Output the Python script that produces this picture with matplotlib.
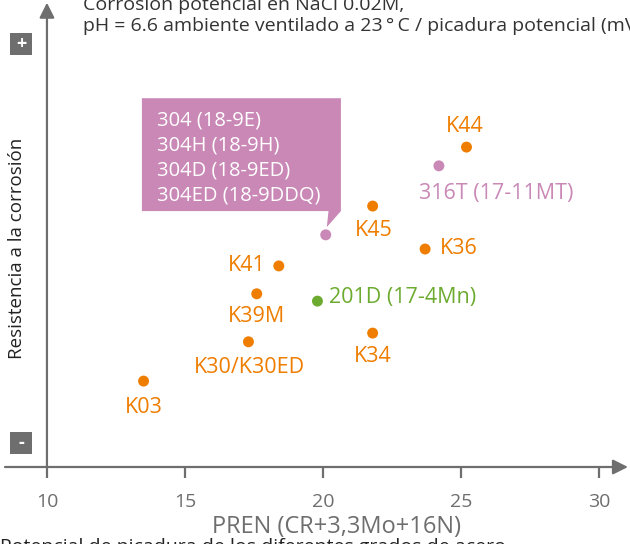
"""Corrosion resistance vs. PREN scatter with labelled stainless grades."""
import matplotlib
matplotlib.use("Agg")
import matplotlib.pyplot as plt
from matplotlib.patches import Rectangle, Polygon

plt.rcParams["font.family"] = ["Open Sans", "DejaVu Sans"]

ORANGE = "#ee7d00"
PINK = "#c988b6"
GREEN = "#6cab2f"
GRAY = "#6e6e6e"

# PREN (x) and relative corrosion resistance (y, arbitrary 0-100 scale)
labels = ["K03", "K30/K30ED", "K39M", "K41", "201D (17-4Mn)", "304",
          "K45", "K34", "K36", "316T (17-11MT)", "K44"]
pren = [13.5, 17.3, 17.6, 18.4, 19.8, 20.1, 21.8, 21.8, 23.7, 24.2, 25.2]
resist = [18.8, 27.4, 37.9, 44.0, 36.3, 50.8, 57.1, 29.3, 47.7, 65.9, 70.0]
groups = ["K", "K", "K", "K", "201", "304", "K", "K", "K", "316", "K"]
group_color = {"K": ORANGE, "201": GREEN, "304": PINK, "316": PINK}

callout_lines = ["304 (18-9E)", "304H (18-9H)", "304D (18-9ED)", "304ED (18-9DDQ)"]

# label placement: (dx px, dy px, ha)
label_pos = {
    "K03": (0, -26, "center"),
    "K30/K30ED": (1, -26, "center"),
    "K39M": (0, -23, "center"),
    "K41": (-13, 0, "right"),
    "201D (17-4Mn)": (12, 4, "left"),
    "K45": (1, -24, "center"),
    "K34": (0, -23, "center"),
    "K36": (15, 1, "left"),
    "316T (17-11MT)": (-20, -28, "left"),
    "K44": (-2, 21, "center"),
}

fig = plt.figure(figsize=(6.3, 5.44), dpi=100)
ax = fig.add_axes([5 / 630, 77 / 544, 610 / 630, 457 / 544])
ax.set_xlim(8.48, 30.58)
ax.set_ylim(0, 100)
for s in ax.spines.values():
    s.set_visible(False)

# axis arrows
arrow = dict(arrowstyle="-|>,head_length=0.9,head_width=0.45", color=GRAY,
             lw=1.6, shrinkA=0, shrinkB=0)
ax.annotate("", xy=(31.05, 0), xytext=(8.48, 0), arrowprops=arrow,
            annotation_clip=False)
ax.annotate("", xy=(10, 101.6), xytext=(10, 0), arrowprops=arrow,
            annotation_clip=False)

ax.set_xticks([10, 15, 20, 25, 30])
ax.tick_params(axis="x", direction="out", length=8, width=1.6, color=GRAY,
               labelcolor=GRAY, labelsize=14, pad=11)
ax.set_yticks([])
ax.set_xlabel("PREN (CR+3,3Mo+16N)", fontsize=17, color=GRAY)
ax.xaxis.set_label_coords((337 - 5) / 610, -0.106)
fig.text(17 / 630, 1 - 248 / 544, "Resistencia a la corrosión", rotation=90,
         ha="center", va="center", fontsize=13.5, color="#222222")

# callout for the 304 family
box = [(13.44, 80.7), (20.65, 80.7), (20.65, 56.0), (20.14, 52.5),
       (20.20, 56.0), (13.44, 56.0)]
ax.add_patch(Polygon(box, closed=True, facecolor=PINK, edgecolor="none"))
for i, line in enumerate(callout_lines):
    ax.text(13.97, 75.9 - i * 5.5, line, color="white", fontsize=14.5,
            ha="left", va="center")

colors = [group_color[g] for g in groups]
ax.scatter(pren, resist, s=62, c=colors, edgecolors="none", zorder=3)

for name, x, y, g in zip(labels, pren, resist, groups):
    if name not in label_pos:
        continue
    dx, dy, ha = label_pos[name]
    ax.annotate(name, (x, y), xytext=(dx, dy), textcoords="offset pixels",
                ha=ha, va="center", fontsize=15.5, color=group_color[g])

# +/- markers on the y axis
for top, sym in [(33, "+"), (432, "-")]:
    fig.patches.append(Rectangle((10 / 630, 1 - (top + 22) / 544), 22 / 630,
                                 22 / 544, transform=fig.transFigure,
                                 facecolor=GRAY, edgecolor="none"))
    fig.text(21 / 630, 1 - (top + 11) / 544, sym, ha="center", va="center",
             color="white", fontsize=13, fontweight="bold")

fig.text(83 / 630, 1 - 10 / 544, "Corrosión potencial en NaCl 0.02M,",
         fontsize=14, color="#333333", va="baseline")
fig.text(83 / 630, 1 - 31 / 544,
         "pH = 6.6 ambiente ventilado a 23\u2009\u00b0\u2009C / picadura potencial (mV)",
         fontsize=14, color="#333333", va="baseline")
fig.text(0.0, 1 - 538 / 544,
         "Potencial de picadura de los diferentes grados de acero",
         fontsize=14, color="#222222", va="top")

fig.savefig("out.png", dpi=100)
